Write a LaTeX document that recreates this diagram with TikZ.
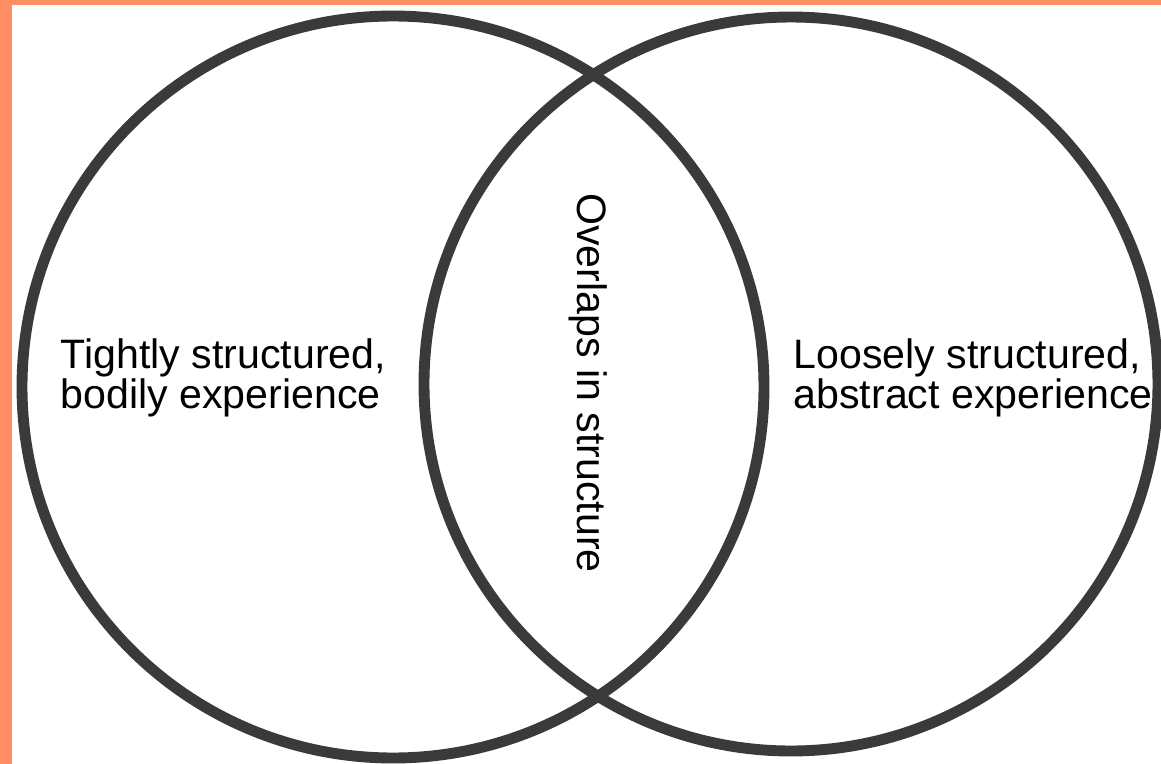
\documentclass[tikz,border=0pt]{standalone}
\usepackage{fontspec}
\setmainfont{Liberation Sans}
\usetikzlibrary{positioning}
\definecolor{frameOrange}{RGB}{255,142,98}
\definecolor{ringGray}{RGB}{58,58,58}
\tikzset{
    vennCircle/.style={circle, draw=ringGray, line width=3.1pt, inner sep=0pt, outer sep=0pt},
    areaText/.style={align=left, anchor=west, inner sep=0pt, font=\fontsize{11.7}{11.4}\selectfont},
    midText/.style={rotate=-90, inner sep=0pt, font=\fontsize{11.7}{11.4}\selectfont},
}
\begin{document}
\begin{tikzpicture}[x=0.1mm, y=-0.1mm]

        % frame
        \fill[frameOrange] (0,0) rectangle (1161,764);
        \fill[white] (12,5) rectangle (1161,764);
        \useasboundingbox (0,0) rectangle (1161,764);
        \clip (12,5) rectangle (1161,764);

        % the two sets
        \node[vennCircle, minimum size=74.2mm] (setL) at (393,387) {};
        \node[vennCircle, minimum size=73.4mm] (setR) at (791,384) {};

        % labels
        \node[areaText] (bodily) at (60,378) {Tightly structured,\\bodily experience};
        \node[areaText] (abstract) at (793,378) {Loosely structured,\\abstract experience};
        \node[midText] (overlap) at (588,383) {Overlaps in structure};

    \end{tikzpicture}
\end{document}
